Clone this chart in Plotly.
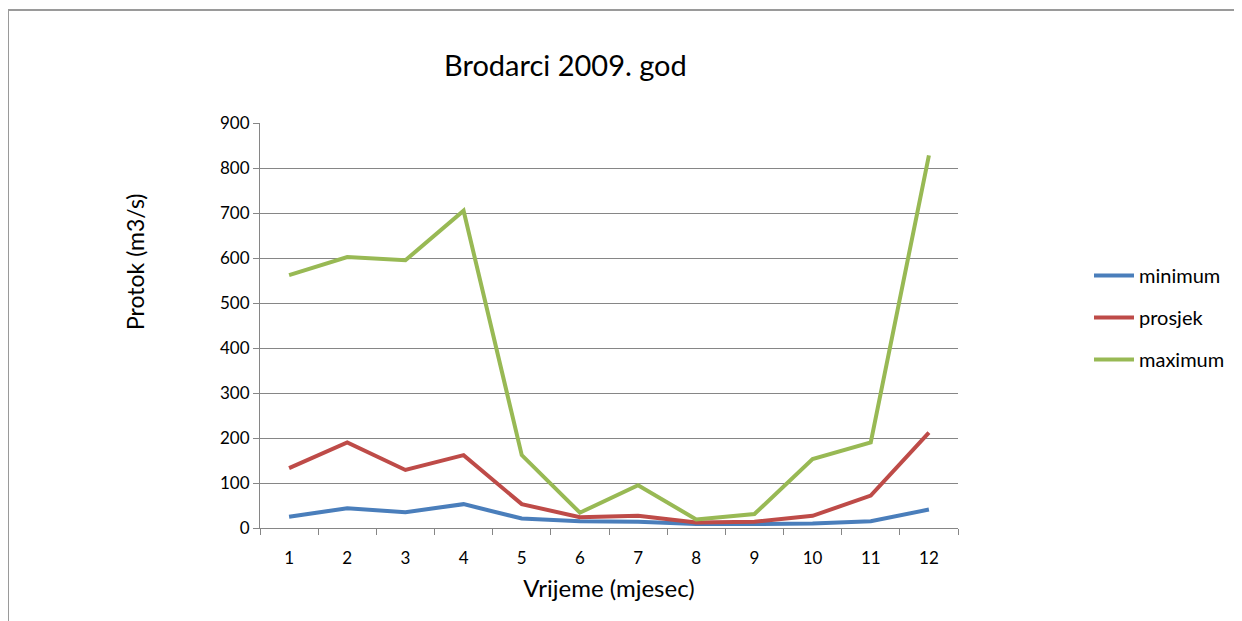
import plotly.graph_objects as go

months = [1, 2, 3, 4, 5, 6, 7, 8, 9, 10, 11, 12]
month_labels = ["1", "2", "3", "4", "5", "6", "7", "8", "9", "10", "11", "12"]
minimum = [25, 44, 35, 53, 21, 15, 14, 9, 9, 10, 15, 41]
prosjek = [133, 190, 129, 162, 53, 24, 27, 12, 14, 27, 72, 212]
maximum = [562, 602, 595, 705, 162, 34, 95, 19, 31, 153, 190, 828]
y_ticks = [0, 100, 200, 300, 400, 500, 600, 700, 800, 900]

FONT = "Lato"
fig = go.Figure()
series = [("minimum", minimum, "#4A7EBB"), ("prosjek", prosjek, "#BE4B48"), ("maximum", maximum, "#98B954")]
for name, vals, col in series:
    fig.add_trace(go.Scatter(x=months, y=vals, name=name, mode="lines",
                             line=dict(color=col, width=4), legendgroup=name))

OFF = 8  # page body offset
W, H = 1242 - OFF, 621 - OFF
L, R, T, B = 260 - OFF, 958 - OFF, 123 - OFF, 528 - OFF
pw, ph = R - L, B - T

def px(x):
    return (x - OFF - L) / pw

def py(y):
    return (B - (y - OFF)) / ph

fig.update_layout(
    width=W, height=H,
    margin=dict(l=L, r=W - R, t=T, b=H - B, autoexpand=False),
    plot_bgcolor="white", paper_bgcolor="white",
    font=dict(family=FONT, size=16, color="#000000"),
    showlegend=True,
    legend=dict(x=px(1089), y=py(256), xanchor="left", yanchor="top",
                font=dict(size=20, family=FONT), traceorder="grouped",
                tracegroupgap=13, itemwidth=40, bgcolor="rgba(0,0,0,0)"),
    xaxis=dict(range=[0.5, 12.5], tickmode="array", tickvals=months, ticktext=month_labels,
               ticks="", showgrid=False, zeroline=False, showline=True, linecolor="#868686",
               linewidth=1, tickfont=dict(size=17, family=FONT), ticklabelstandoff=15,
               minor=dict(tick0=0.5, dtick=1, ticks="outside", ticklen=6, tickcolor="#868686", showgrid=False),
               title=dict(text="Vrijeme (mjesec)", font=dict(size=24, family=FONT), standoff=12)),
    yaxis=dict(range=[0, 900], tickmode="array", tickvals=y_ticks, ticks="outside", ticklen=6,
               tickcolor="#868686", showgrid=True, gridcolor="#868686", gridwidth=1,
               zeroline=False, showline=True, linecolor="#868686", linewidth=1,
               tickfont=dict(size=17, family=FONT)),
    annotations=[
        dict(text="Brodarci 2009. god", xref="paper", yref="paper", x=px(565), y=py(65),
             xanchor="center", yanchor="middle", showarrow=False, font=dict(size=29, family=FONT)),
        dict(text="Protok (m3/s)", xref="paper", yref="paper", x=px(135), y=py(262),
             xanchor="center", yanchor="middle", showarrow=False, textangle=-90,
             font=dict(size=23, family=FONT)),
    ],
    shapes=[
        dict(type="line", xref="paper", yref="paper", x0=px(8), y0=py(10), x1=px(1242), y1=py(10),
             line=dict(color="#9A9A9A", width=2), layer="below"),
        dict(type="line", xref="paper", yref="paper", x0=px(8), y0=py(10), x1=px(8), y1=py(621),
             line=dict(color="#9A9A9A", width=2), layer="below"),
    ],
)

fig.write_html("out.html")
